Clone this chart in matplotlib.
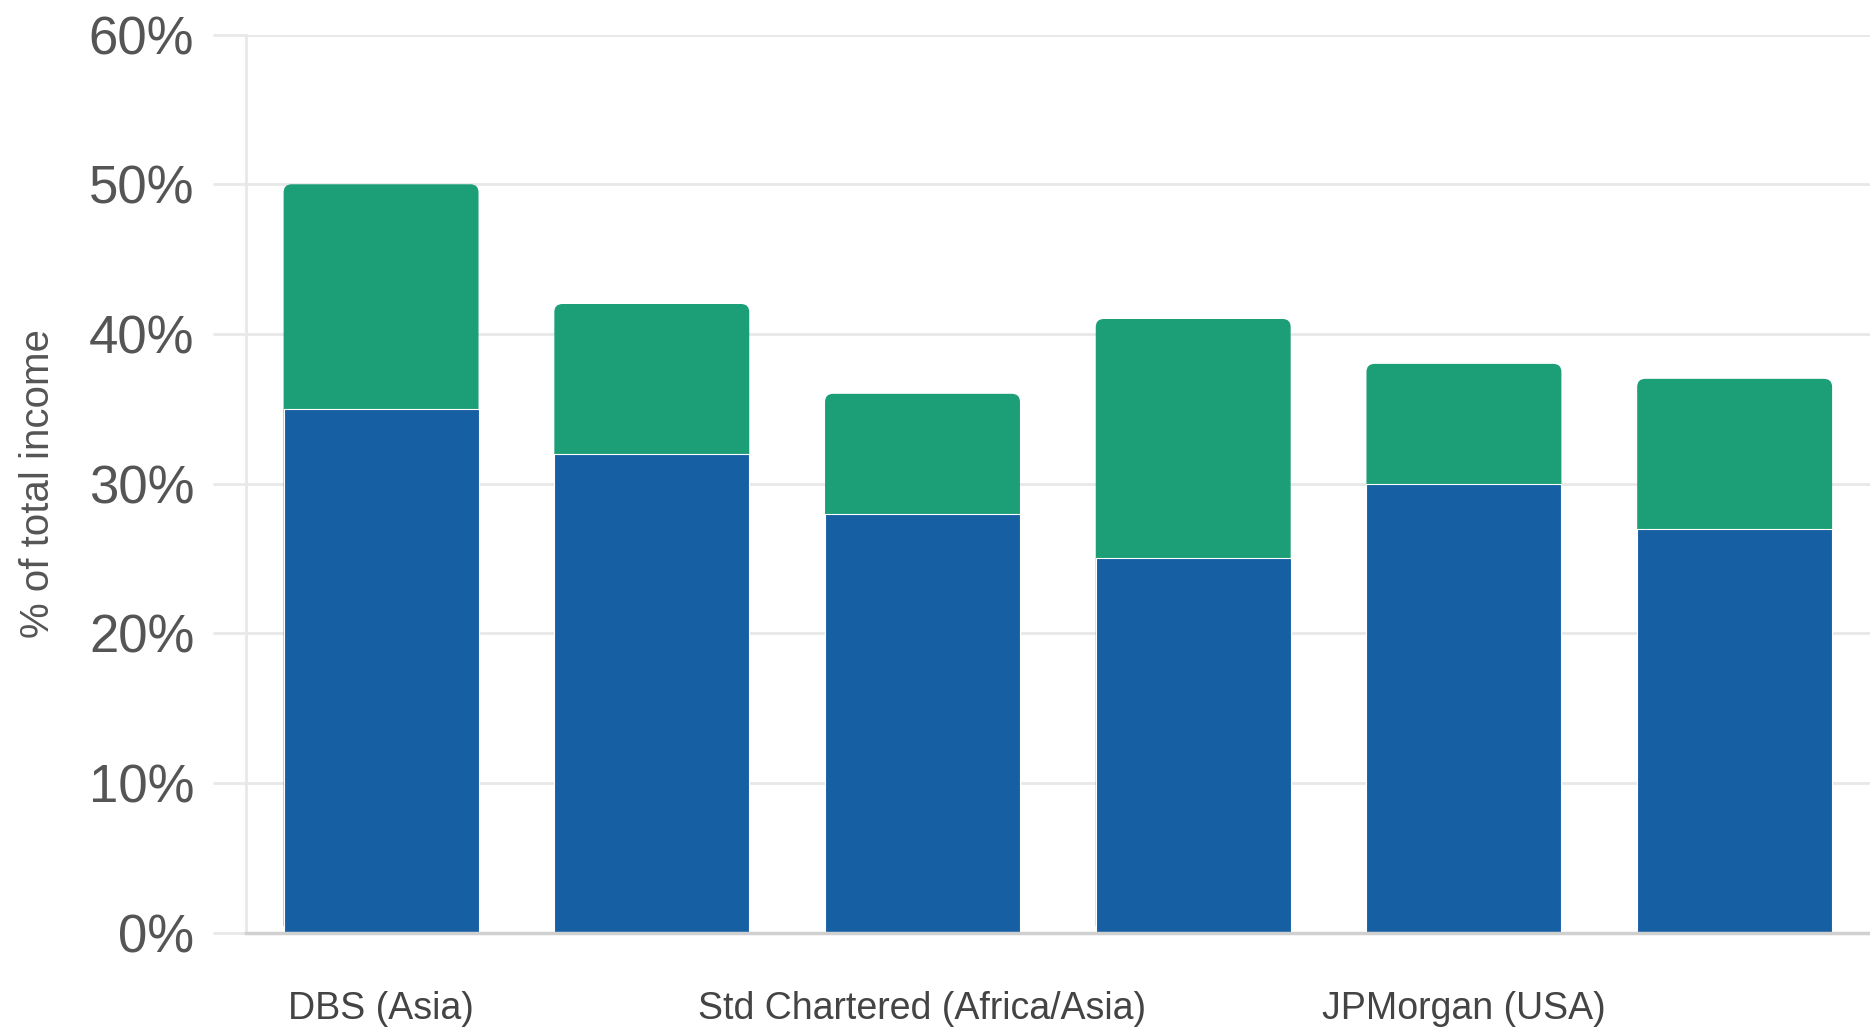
"""Stacked bar chart: share of total income by bank."""

import matplotlib
matplotlib.use("Agg")
import matplotlib.pyplot as plt
from matplotlib.patches import FancyBboxPatch
from matplotlib.ticker import FuncFormatter

plt.rcParams["font.family"] = ["Liberation Sans", "DejaVu Sans"]

# only every other bank is labelled in the source
tick_labels = ["DBS (Asia)", "", "Std Chartered (Africa/Asia)", "", "JPMorgan (USA)", ""]
lower_share = [35, 32, 28, 25, 30, 27]   # blue segment, % of total income
upper_share = [15, 10, 8, 16, 8, 10]     # green segment, % of total income
y_ticks = [0, 10, 20, 30, 40, 50, 60]

BLUE = "#175fa3"
GREEN = "#1c9e77"
GRID = "#e8e8e8"

fig = plt.figure(figsize=(18.7, 10.27), dpi=100)
ax = fig.add_axes([0.1314, 0.0919, 0.8686, 0.8744])

x = list(range(len(tick_labels)))
totals = [a + b for a, b in zip(lower_share, upper_share)]
width = 0.72
x_lo, x_hi = -0.5, 5.5

# green bar spans full total with rounded corners; blue drawn on top
green = ax.bar(x, totals, width=width, color=GREEN, zorder=2)
aspect = (60 / (0.8744 * 1027)) / ((x_hi - x_lo) / (0.8686 * 1870))
for rect in green:
    patch = FancyBboxPatch((rect.get_x(), rect.get_y()), rect.get_width(), rect.get_height(),
                           boxstyle="round,pad=0,rounding_size=0.03",
                           mutation_aspect=aspect, facecolor=GREEN,
                           edgecolor="none", zorder=2)
    ax.add_patch(patch)
    rect.remove()
ax.bar(x, lower_share, width=width, color=BLUE, edgecolor="white",
       linewidth=0.8, zorder=3)

ax.set_xlim(x_lo, x_hi)
ax.set_ylim(0, 60)
ax.set_yticks(y_ticks)
ax.yaxis.set_major_formatter(FuncFormatter(lambda v, _: f"{v:.0f}%"))
ax.set_xticks(x)
ax.set_xticklabels(tick_labels)

ax.grid(axis="y", color=GRID, linewidth=2, zorder=0)
ax.tick_params(axis="y", length=24, width=2, color=GRID, pad=13,
               labelsize=38, labelcolor="#555555")
ax.tick_params(axis="x", length=0, pad=42, labelsize=27, labelcolor="#444444")

for side in ["top", "right"]:
    ax.spines[side].set_visible(False)
ax.spines["left"].set_color(GRID)
ax.spines["left"].set_linewidth(2)
ax.spines["bottom"].set_color("#d0d0d0")
ax.spines["bottom"].set_linewidth(2.5)
ax.spines["bottom"].set_zorder(4)

ax.set_ylabel("% of total income", fontsize=29, color="#555555")
ax.yaxis.set_label_coords(-0.116, 0.5)

fig.savefig("out.png", dpi=100)
plt.close(fig)
